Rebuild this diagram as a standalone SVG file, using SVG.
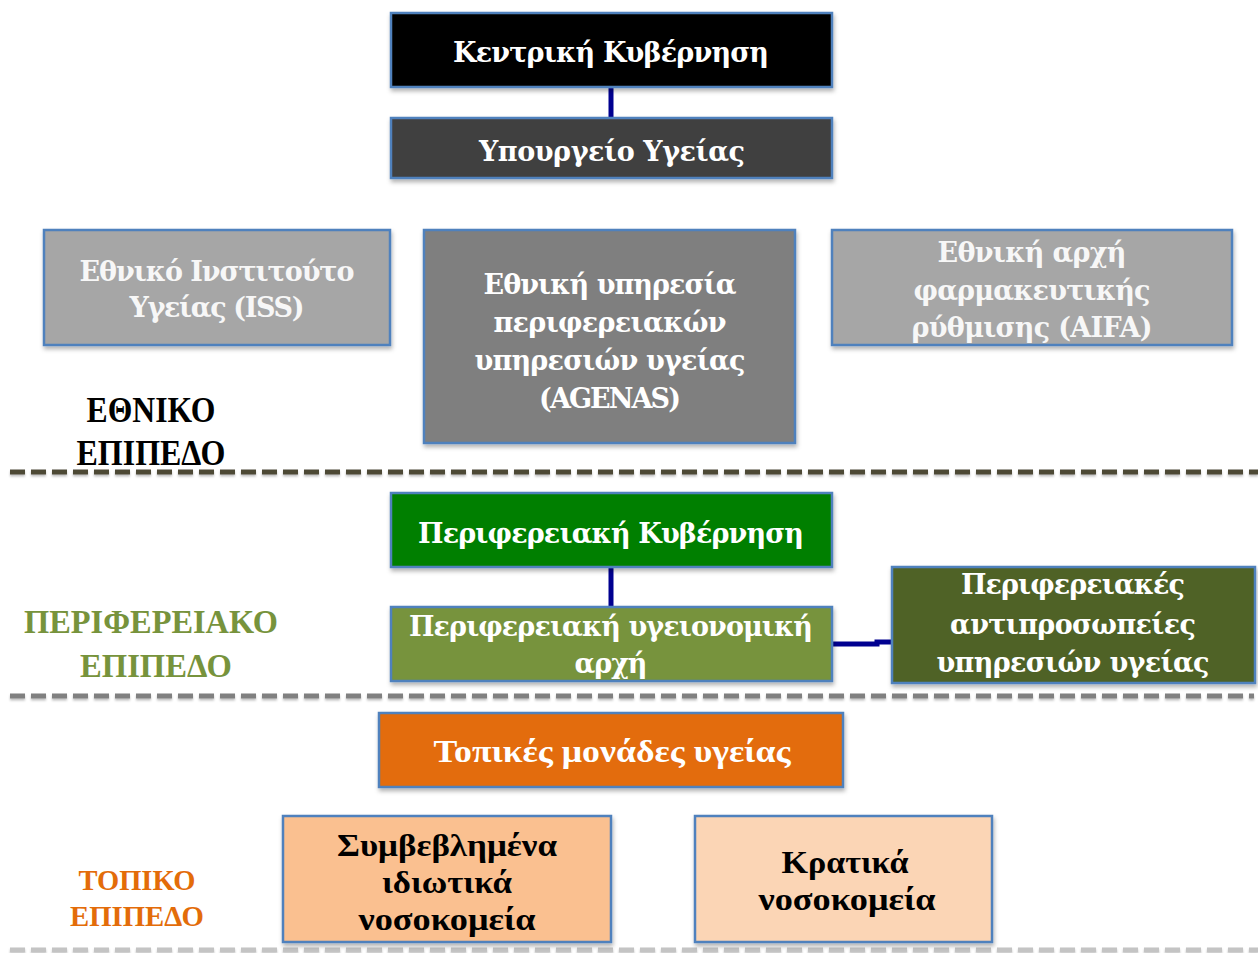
<svg xmlns="http://www.w3.org/2000/svg" width="1258" height="953" viewBox="0 0 1258 953">
  <defs>
    <filter id="shadow" x="-5%" y="-10%" width="115%" height="130%">
      <feDropShadow dx="1" dy="3" stdDeviation="2" flood-color="#000" flood-opacity="0.3"/>
    </filter>
    <filter id="lineShadow" filterUnits="userSpaceOnUse" x="0" y="0" width="1258" height="953">
      <feDropShadow dx="0" dy="2" stdDeviation="1.2" flood-color="#000" flood-opacity="0.25"/>
    </filter>
    <style>
      .box { stroke: #4f81bd; stroke-width: 2.5; filter: url(#shadow); }
      .wide { font-family: "DejaVu Serif", "Liberation Serif", serif; font-weight: bold; font-size: 27px; text-anchor: middle; }
      .narrow { font-family: "Liberation Serif", "DejaVu Serif", serif; font-weight: bold; text-anchor: middle; }
      .light { fill: #ffffff; }
      .pale { fill: #f7f7f7; }
      .dark { fill: #000000; }
      .conn { stroke: #000090; stroke-width: 5; fill: none; }
      .sep { fill: none; stroke-width: 5; stroke-dasharray: 15 6; filter: url(#lineShadow); }
    </style>
  </defs>

  <!-- level separators -->
  <g id="separators">
    <line class="sep" x1="10" y1="472" x2="1258" y2="472" stroke="#4d4936"/>
    <line class="sep" x1="10" y1="696" x2="1254" y2="696" stroke="#808080"/>
    <line class="sep" x1="10" y1="950" x2="1258" y2="950" stroke="#c4c4c4"/>
  </g>

  <!-- connectors -->
  <g id="connectors">
    <line class="conn" x1="611" y1="87" x2="611" y2="118"/>
    <line class="conn" x1="611" y1="567" x2="611" y2="607"/>
    <path class="conn" d="M832,644 H877 V642 H892" stroke-width="7"/>
  </g>

  <!-- national level -->
  <g id="central-government">
    <rect class="box" x="391" y="13" width="441" height="74" fill="#000000"/>
    <text class="wide light" x="611" y="62" textLength="316" lengthAdjust="spacing">Κεντρική Κυβέρνηση</text>
  </g>
  <g id="ministry-of-health">
    <rect class="box" x="391" y="118" width="441" height="60" fill="#404040"/>
    <text class="wide light" x="612" y="161" textLength="266" lengthAdjust="spacing">Υπουργείο Υγείας</text>
  </g>
  <g id="iss">
    <rect class="box" x="44" y="230" width="346" height="115" fill="#a6a6a6"/>
    <text class="wide pale" x="217" y="281" textLength="275" lengthAdjust="spacing">Εθνικό Ινστιτούτο</text>
    <text class="wide pale" x="217" y="317" textLength="175" lengthAdjust="spacing">Υγείας (ISS)</text>
  </g>
  <g id="agenas">
    <rect class="box" x="424" y="230" width="371" height="213" fill="#7f7f7f"/>
    <text class="wide light" x="610" y="294" textLength="253" lengthAdjust="spacing">Εθνική υπηρεσία</text>
    <text class="wide light" x="610" y="332" textLength="233" lengthAdjust="spacing">περιφερειακών</text>
    <text class="wide light" x="610" y="370" textLength="271" lengthAdjust="spacing">υπηρεσιών υγείας</text>
    <text class="wide light" x="610" y="408" textLength="142" lengthAdjust="spacing">(AGENAS)</text>
  </g>
  <g id="aifa">
    <rect class="box" x="832" y="230" width="400" height="115" fill="#a6a6a6"/>
    <text class="wide pale" x="1032" y="262" textLength="189" lengthAdjust="spacing">Εθνική αρχή</text>
    <text class="wide pale" x="1032" y="300" textLength="237" lengthAdjust="spacing">φαρμακευτικής</text>
    <text class="wide pale" x="1032" y="337" textLength="241" lengthAdjust="spacing">ρύθμισης (AIFA)</text>
  </g>
  <g id="label-national">
    <text class="narrow dark" x="151" y="422" font-size="35" textLength="129" lengthAdjust="spacingAndGlyphs">ΕΘΝΙΚΟ</text>
    <text class="narrow dark" x="151" y="465" font-size="35" textLength="149" lengthAdjust="spacingAndGlyphs">ΕΠΙΠΕΔΟ</text>
  </g>

  <!-- regional level -->
  <g id="regional-government">
    <rect class="box" x="391" y="493" width="441" height="74" fill="#007f00"/>
    <text class="wide light" x="611" y="543" textLength="386" lengthAdjust="spacing">Περιφερειακή Κυβέρνηση</text>
  </g>
  <g id="regional-health-authority">
    <rect class="box" x="391" y="607" width="441" height="74" fill="#77933c"/>
    <text class="wide light" x="611" y="636" textLength="404" lengthAdjust="spacing">Περιφερειακή υγειονομική</text>
    <text class="wide light" x="611" y="673" textLength="73" lengthAdjust="spacing">αρχή</text>
  </g>
  <g id="regional-agencies">
    <rect class="box" x="892" y="567" width="363" height="116" fill="#4f6228"/>
    <text class="wide light" x="1073" y="594" textLength="224" lengthAdjust="spacing">Περιφερειακές</text>
    <text class="wide light" x="1073" y="634" textLength="246" lengthAdjust="spacing">αντιπροσωπείες</text>
    <text class="wide light" x="1073" y="672" textLength="273" lengthAdjust="spacing">υπηρεσιών υγείας</text>
  </g>
  <g id="label-regional">
    <text class="narrow" fill="#77933c" x="151" y="633" font-size="34" textLength="254" lengthAdjust="spacingAndGlyphs">ΠΕΡΙΦΕΡΕΙΑΚΟ</text>
    <text class="narrow" fill="#77933c" x="156" y="677" font-size="34" textLength="152" lengthAdjust="spacingAndGlyphs">ΕΠΙΠΕΔΟ</text>
  </g>

  <!-- local level -->
  <g id="local-health-units">
    <rect class="box" x="379" y="713" width="464" height="74" fill="#e36c09"/>
    <text class="narrow light" x="612" y="762" font-size="32" textLength="357" lengthAdjust="spacingAndGlyphs">Τοπικές μονάδες υγείας</text>
  </g>
  <g id="private-hospitals">
    <rect class="box" x="283" y="816" width="328" height="126" fill="#fac090"/>
    <text class="narrow dark" x="447" y="856" font-size="32" textLength="220" lengthAdjust="spacingAndGlyphs">Συμβεβλημένα</text>
    <text class="narrow dark" x="447" y="893" font-size="32" textLength="130" lengthAdjust="spacingAndGlyphs">ιδιωτικά</text>
    <text class="narrow dark" x="447" y="930" font-size="32" textLength="177" lengthAdjust="spacingAndGlyphs">νοσοκομεία</text>
  </g>
  <g id="public-hospitals">
    <rect class="box" x="695" y="816" width="297" height="126" fill="#fbd5b5"/>
    <text class="narrow dark" x="845" y="873" font-size="32" textLength="127" lengthAdjust="spacingAndGlyphs">Κρατικά</text>
    <text class="narrow dark" x="847" y="910" font-size="32" textLength="177" lengthAdjust="spacingAndGlyphs">νοσοκομεία</text>
  </g>
  <g id="label-local">
    <text class="narrow" fill="#e36c09" x="137" y="890" font-size="29" textLength="117" lengthAdjust="spacingAndGlyphs">ΤΟΠΙΚΟ</text>
    <text class="narrow" fill="#e36c09" x="137" y="926" font-size="29" textLength="134" lengthAdjust="spacingAndGlyphs">ΕΠΙΠΕΔΟ</text>
  </g>
</svg>
